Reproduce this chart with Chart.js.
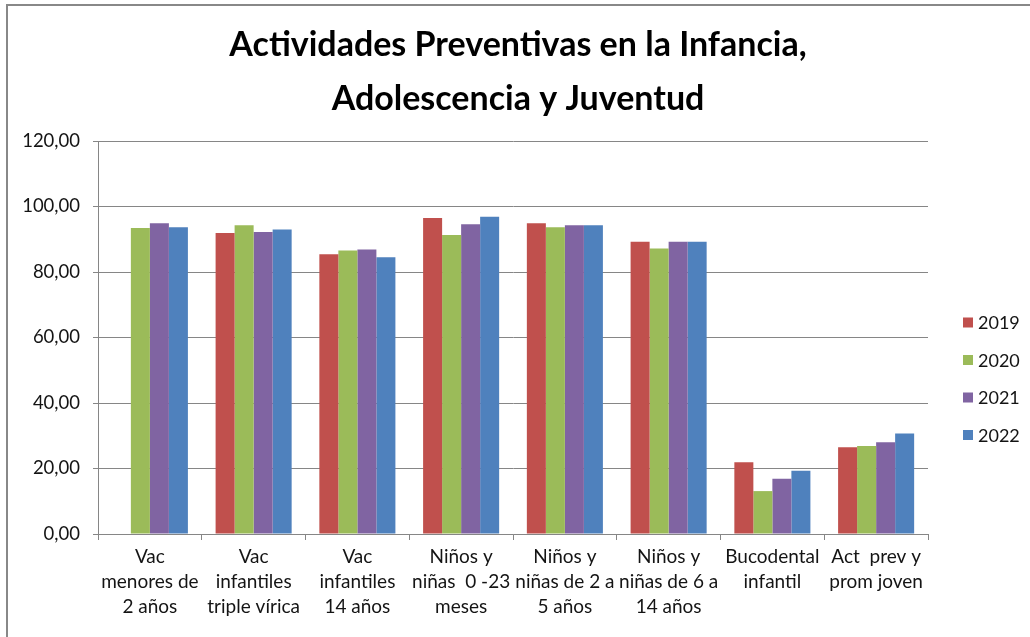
<!DOCTYPE html>
<html><head><meta charset="utf-8">
<script src="https://cdn.jsdelivr.net/npm/chart.js@4/dist/chart.umd.min.js"></script>
<style>
html,body{margin:0;padding:0;background:#fff;overflow:hidden}
#wrap{position:relative;width:1030px;height:637px;overflow:hidden}
#frame{position:absolute;left:6px;top:4px;width:1060px;height:680px;border:2px solid #888;box-sizing:border-box;pointer-events:none}
canvas{position:absolute;left:0;top:0}
</style></head><body>
<div id="wrap"><canvas id="c" width="1030" height="637" style="width:1030px;height:637px"></canvas><div id="frame"></div></div>
<script>
const categories = [
  ["Vac", "menores de", "2 años"],
  ["Vac", "infantiles", "triple vírica"],
  ["Vac", "infantiles", "14 años"],
  ["Niños y", "niñas  0 -23", "meses"],
  ["Niños y", "niñas de 2 a", "5 años"],
  ["Niños y", "niñas de 6 a", "14 años"],
  ["Bucodental", "infantil"],
  ["Act  prev y", "prom joven"]
];
const seriesNames = ["2019", "2020", "2021", "2022"];
const values2019 = [null, 91.9, 85.4, 96.5, 94.9, 89.2, 21.9, 26.5];
const values2020 = [93.4, 94.3, 86.6, 91.3, 93.7, 87.2, 13.1, 26.9];
const values2021 = [94.9, 92.2, 86.9, 94.6, 94.3, 89.2, 16.9, 28.0];
const values2022 = [93.7, 93.0, 84.5, 96.9, 94.3, 89.2, 19.3, 30.7];
const yTickLabels = ["0,00", "20,00", "40,00", "60,00", "80,00", "100,00", "120,00"];
const titleLines = ["Actividades Preventivas en la Infancia,", "Adolescencia y Juventud"];

const colors = ["#C0504D", "#9BBB59", "#8064A2", "#4F81BD"];
const gridColor = "#868686";
const textColor = "#141414";
const FONT = "Lato, 'Open Sans', sans-serif";

const sideLegend = {
  id: 'sideLegend',
  beforeInit(chart) {
    const box = {
      position: 'right', weight: 100, fullSize: false, options: {},
      left: 0, top: 0, right: 0, bottom: 0, width: 0, height: 0,
      isHorizontal() { return false; },
      update(maxWidth, maxHeight) { this.width = 102; this.height = maxHeight; },
      draw() {
        const ctx = chart.ctx;
        ctx.save();
        ctx.font = "18px " + FONT;
        ctx.textBaseline = 'middle';
        ctx.textAlign = 'left';
        chart.data.datasets.forEach((ds, i) => {
          const cy = 322.5 + 37.5 * i;
          const x = this.left + 35;
          ctx.fillStyle = ds.backgroundColor;
          ctx.fillRect(x, cy - 5, 10, 10);
          ctx.fillStyle = textColor;
          ctx.fillText(ds.label, x + 15, cy + 1);
        });
        ctx.restore();
      }
    };
    Chart.layouts.addBox(chart, box);
  }
};

const seriesValues = [values2019, values2020, values2021, values2022];

new Chart(document.getElementById('c'), {
  type: 'bar',
  data: {
    labels: categories,
    datasets: seriesNames.map((n, i) => ({
      label: n,
      data: seriesValues[i],
      backgroundColor: colors[i],
      borderWidth: 0,
      categoryPercentage: 0.733,
      barPercentage: 1.0
    }))
  },
  plugins: [sideLegend],
  options: {
    responsive: false,
    animation: false,
    devicePixelRatio: 1,
    layout: { padding: { left: 6, right: 0, top: 18, bottom: 0 } },
    plugins: {
      legend: { display: false },
      tooltip: { enabled: false },
      title: {
        display: true,
        text: titleLines,
        color: '#000',
        font: { family: FONT, size: 34, weight: 'bold', lineHeight: 54 / 34 },
        padding: { top: 0, bottom: 15 }
      }
    },
    scales: {
      x: {
        grid: { display: true, drawOnChartArea: false, drawTicks: true, tickLength: 6, color: gridColor, offset: true },
        border: { display: true, color: gridColor, width: 1 },
        ticks: { color: textColor, font: { family: FONT, size: 19, lineHeight: 25 / 19 }, padding: 4, maxRotation: 0, minRotation: 0, autoSkip: false },
        afterFit(s) { s.height = 103; }
      },
      y: {
        min: 0, max: 120,
        grid: { color: gridColor, lineWidth: 1, tickLength: 5, drawTicks: true },
        border: { display: true, color: gridColor, width: 1 },
        ticks: {
          stepSize: 20,
          color: textColor,
          font: { family: FONT, size: 18.5 },
          padding: 13,
          callback: (v, i) => yTickLabels[i]
        },
        afterFit(s) { s.width = 92; }
      }
    }
  }
});
</script>
</body></html>
